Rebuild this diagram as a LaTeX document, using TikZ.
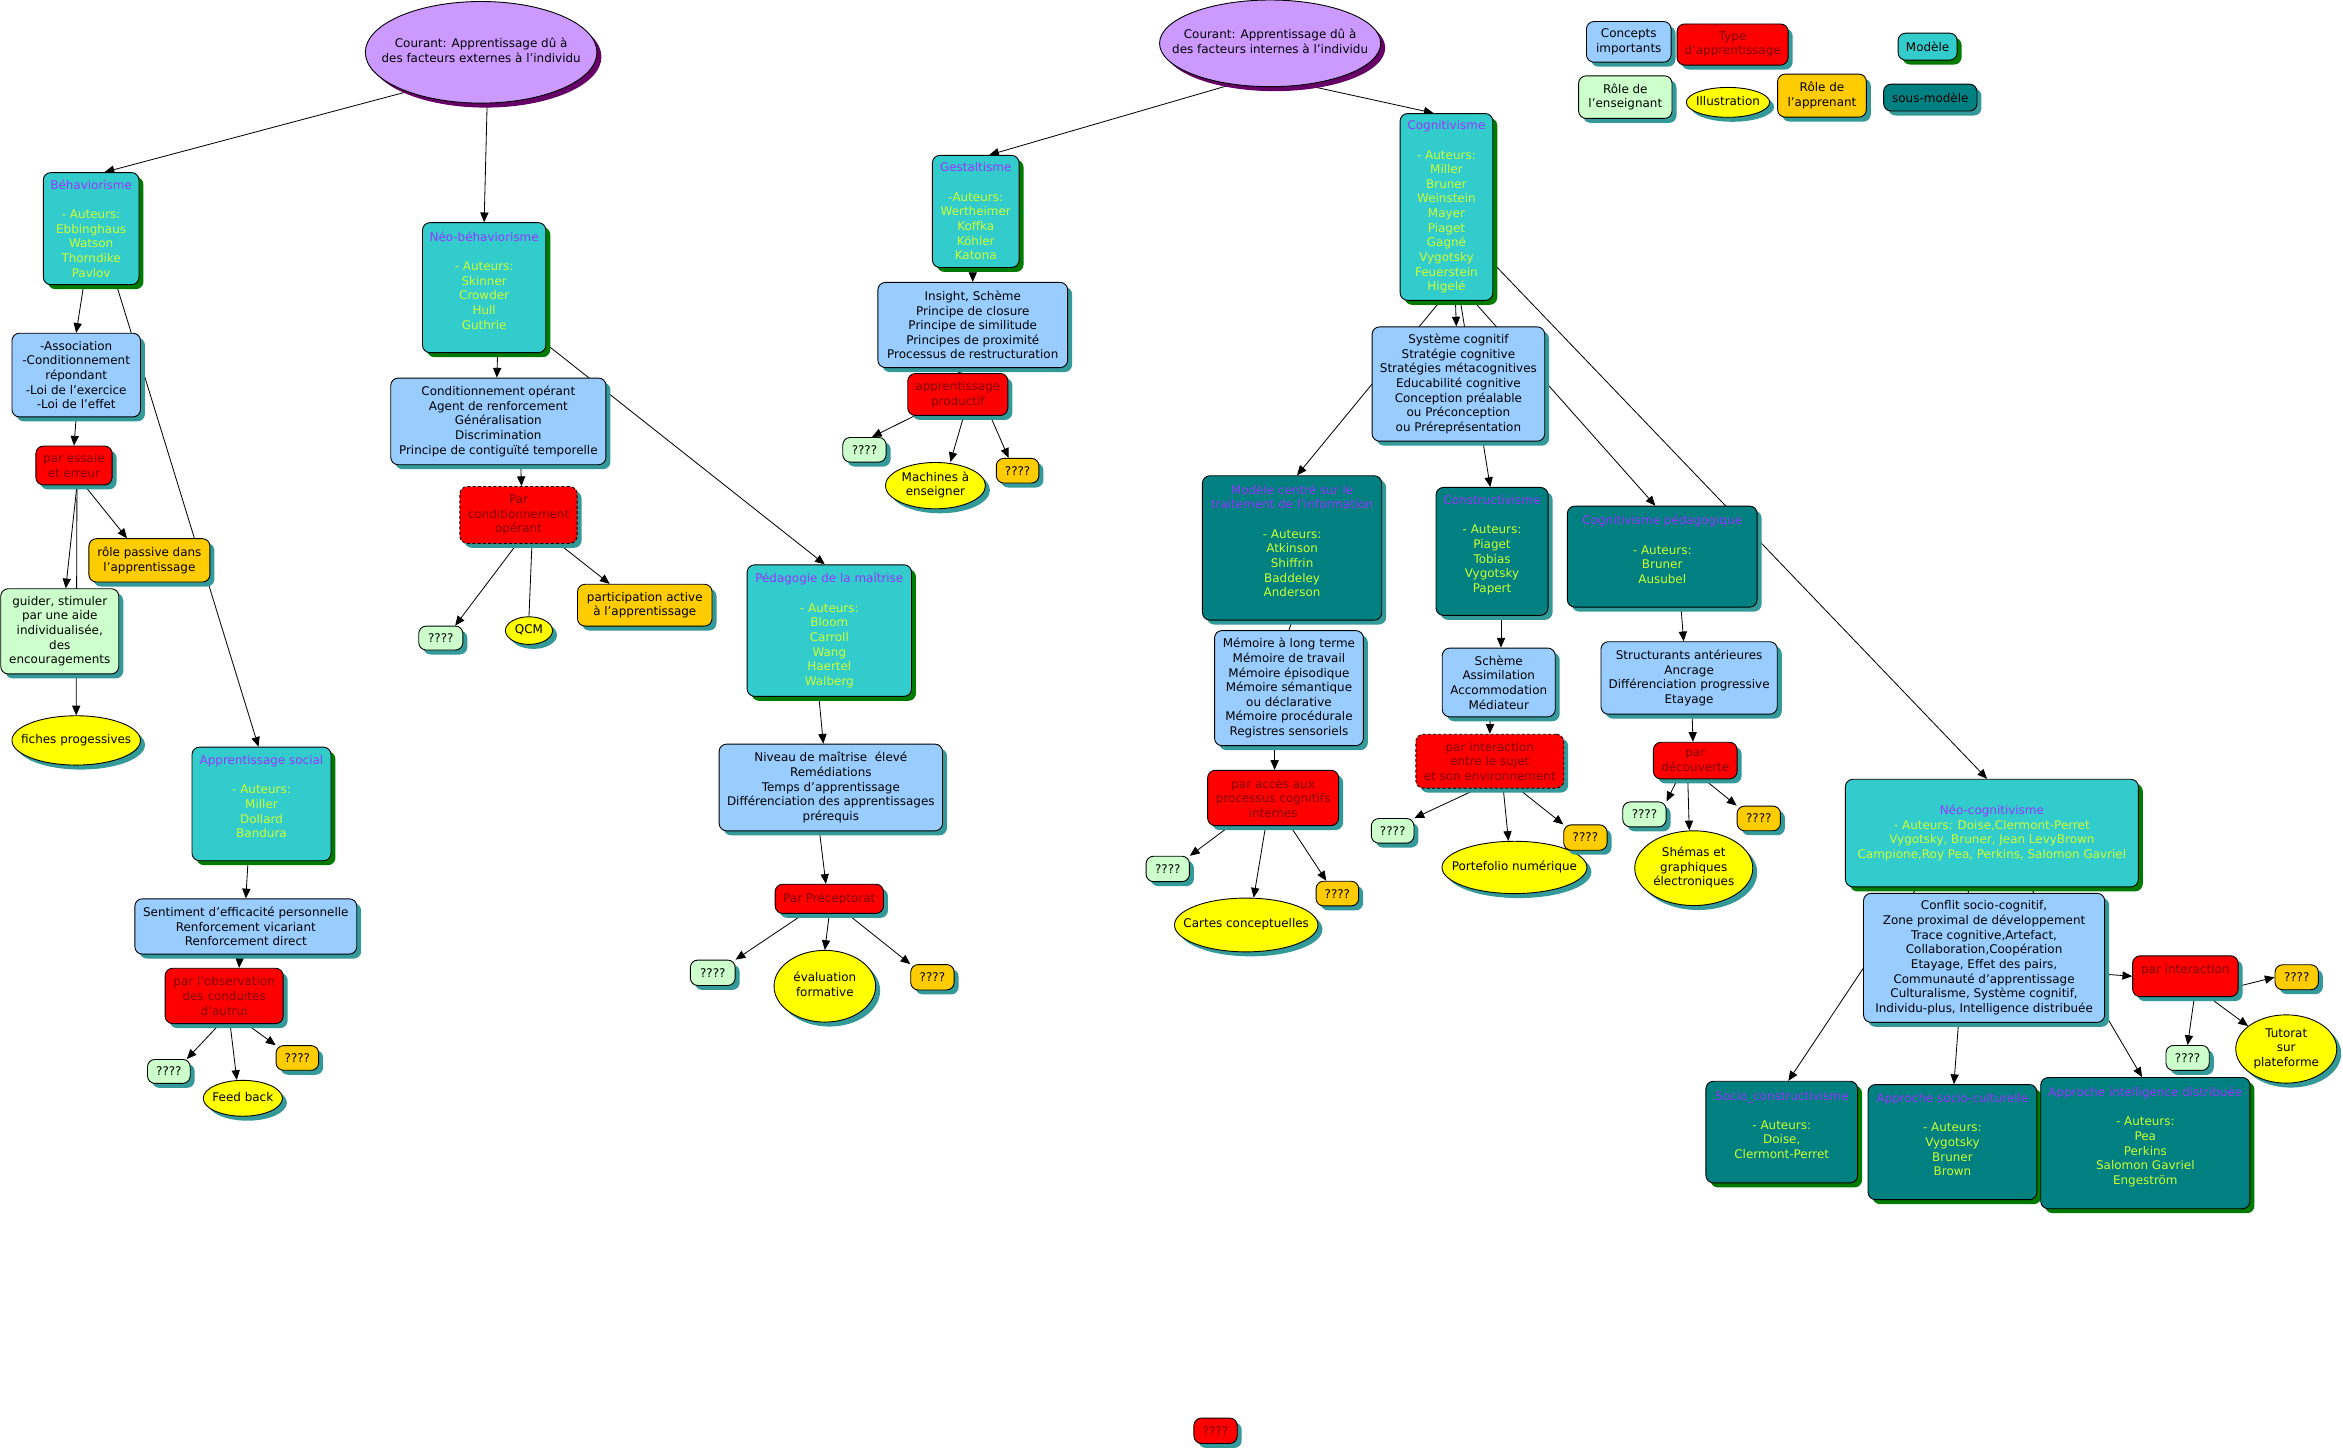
\documentclass[tikz,border=0pt]{standalone}
\usepackage{fontspec}
\setmainfont{DejaVu Sans}
\usetikzlibrary{shapes.geometric,shadows,arrows.meta}
\definecolor{cblue}{HTML}{99CCFF}
\definecolor{tred}{HTML}{FF0000}
\definecolor{dred}{HTML}{800000}
\definecolor{lgreen}{HTML}{CCFFCC}
\definecolor{orng}{HTML}{FFCC00}
\definecolor{yell}{HTML}{FFFF00}
\definecolor{modc}{HTML}{33CCCC}
\definecolor{smodc}{HTML}{008080}
\definecolor{purp}{HTML}{9933FF}
\definecolor{aut}{HTML}{CCFF33}
\definecolor{shteal}{HTML}{339999}
\definecolor{shgreen}{HTML}{007A00}
\definecolor{courc}{HTML}{CC99FF}
\definecolor{shpurp}{HTML}{660066}
\newcommand{\ttl}[1]{\textcolor{purp}{#1}}
\newcommand{\ztxt}[1]{\smash{\makebox[0pt]{\raisebox{-2pt}{\begin{tabular}{@{}c@{}}#1\end{tabular}}}}}
\pgfdeclarelayer{bg}
\pgfdeclarelayer{edges}
\pgfsetlayers{bg,edges,main}
\tikzset{
  fnt/.style={font=\fontsize{8pt}{9.8pt}\selectfont},
  shT/.style={general shadow={draw=none, fill=shteal, shadow xshift=3pt, shadow yshift=-3pt}},
  shG/.style={general shadow={draw=none, fill=shgreen, shadow xshift=3pt, shadow yshift=-3pt}},
  shP/.style={general shadow={draw=none, fill=shpurp, shadow xshift=3pt, shadow yshift=-3pt}},
  base/.style={draw=black, line width=0.6pt, rounded corners=5pt, align=center, inner sep=2pt, fnt},
  sz/.style 2 args={minimum width=#1pt, minimum height=#2pt},
  concept/.style={base, fill=cblue, shT},
  typ/.style={base, fill=tred, text=dred, shT},
  typd/.style={typ, dash pattern=on 2pt off 1.5pt},
  ens/.style={base, fill=lgreen, shT},
  appr/.style={base, fill=orng, shT},
  illus/.style={shape=ellipse, draw=black, line width=0.6pt, fill=yell, inner sep=0pt, fnt, shT},
  courant/.style={shape=ellipse, draw=black, line width=0.6pt, fill=courc, inner sep=0pt, fnt, shP},
  modele/.style={base, fill=modc, text=aut, shG},
  smod/.style={base, fill=smodc, text=aut, shT},
  smodg/.style={base, fill=smodc, text=aut, shG},
  arr/.style={draw=black, line width=0.55pt, -{Triangle[length=6.5pt,width=5.5pt]}},
  ln/.style={draw=black, line width=0.55pt},
}
\begin{document}
\begin{tikzpicture}[x=1pt,y=-1pt]
\useasboundingbox (0,0) rectangle (1568,970);
\begin{pgfonlayer}{bg}
\fill[white] (0,0) rectangle (1568,970);
\end{pgfonlayer}

% ---------- legend ----------
\node[concept, sz={56.6}{27.2}] (L1) at (1090,28) {Concepts\\importants};
\node[typ, sz={74.3}{27.5}] (L2) at (1159.5,29.8) {Type\\d'apprentissage};
\node[modele, text=black, sz={39.5}{18}] (L3) at (1290,31.2) {Modèle};
\node[ens, sz={62.5}{28.5}] (L4) at (1087.7,65) {Rôle de\\l'enseignant};
\node[illus, sz={55.8}{20}] (L5) at (1156.4,68.5) {\ztxt{Illustration}};
\node[appr, sz={59.4}{28.8}] (L6) at (1219.3,64) {Rôle de\\l'apprenant};
\node[smod, text=black, sz={62.5}{18}] (L7) at (1291.8,65.3) {sous-modèle};

% ---------- external current ----------
\node[courant, sz={155}{68}] (E1) at (322,35) {\ztxt{Courant: Apprentissage dû à\\des facteurs externes à l'individu}};
\node[modele, sz={64}{75}] (beh) at (61,153) {\ttl{Béhaviorisme}\\~\\- Auteurs:\\Ebbinghaus\\Watson\\Thorndike\\Pavlov};
\node[concept, sz={86}{56}] (assoc) at (51,251) {-Association\\-Conditionnement\\répondant\\-Loi de l'exercice\\-Loi de l'effet};
\node[typ, sz={51}{26}] (essaie) at (49.5,311.5) {par essaie\\et erreur};
\node[appr, sz={81}{29}] (rolep) at (100,375) {rôle passive dans\\ l’apprentissage};
\node[ens, sz={79}{57}] (guider) at (40,422.5) {guider, stimuler\\ par une aide\\individualisée,\\des\\encouragements};
\node[illus, sz={86}{33}] (fiches) at (51,495.5) {\ztxt{fiches progessives}};
\node[modele, sz={93}{76}] (apsoc) at (175,538) {\ttl{Apprentissage social}\\~\\- Auteurs:\\Miller\\Dollard\\Bandura\\~};
\node[concept, sz={148.5}{37}] (sentim) at (164.5,620) {Sentiment d'efficacité personnelle\\Renforcement vicariant\\Renforcement direct};
\node[typ, sz={79}{37}] (observ) at (150,666.5) {par l'observation\\des conduites\\d'autrui};
\node[ens, sz={28.6}{16}] (q1) at (113,717) {????};
\node[illus, sz={53}{24}] (feed) at (162.5,735) {\ztxt{Feed back}};
\node[appr, sz={28.5}{16.5}] (q2) at (199,708) {????};

\node[modele, sz={82.5}{87}] (neobeh) at (324,192.5) {\ttl{Néo-béhaviorisme}\\~\\- Auteurs:\\Skinner\\Crowder\\Hull\\Guthrie\\~};
\node[concept, sz={144}{58}] (condop) at (333.5,282) {Conditionnement opérant\\Agent de renforcement\\Généralisation\\Discrimination\\Principe de contiguïté temporelle};
\node[typd, sz={78.5}{38}] (parcond) at (347,344.6) {Par\\conditionnement\\opérant};
\node[ens, sz={29.5}{16}] (q3) at (295,427) {????};
\node[illus, sz={31.5}{18.5}] (qcm) at (354,422) {\ztxt{QCM}};
\node[appr, sz={90}{28}] (partic) at (431.5,405) {participation active\\à l’apprentissage};

\node[modele, sz={110}{88}] (pedago) at (555,422) {\ttl{Pédagogie de la maîtrise}\\~\\- Auteurs:\\Bloom\\Carroll\\Wang\\Haertel\\Walberg};
\node[concept, sz={149.5}{58}] (niveau) at (556,527) {Niveau de maîtrise~ élevé\\Remédiations\\Temps d’apprentissage\\Différenciation des apprentissages\\prérequis};
\node[typ, sz={72.5}{19.5}] (precep) at (555,601.5) {Par Préceptorat};
\node[ens, sz={30}{17}] (q4) at (477,651) {????};
\node[illus, sz={68}{48}] (evalf) at (552,660) {\ztxt{évaluation\\ formative}};
\node[appr, sz={29}{17}] (q5) at (624,654) {????};

% ---------- internal current ----------
\node[courant, sz={148}{58}] (E2) at (850,29) {\ztxt{Courant: Apprentissage dû à\\des facteurs internes à l'individu}};
\node[modele, sz={58}{75}] (gestalt) at (653,141.5) {\ttl{Gestaltisme}\\~\\-Auteurs:\\Wertheimer\\Koffka\\Köhler\\Katona};
\node[concept, sz={127}{57}] (insight) at (651,217.5) {Insight, Schème\\Principe de closure\\Principe de similitude\\Principes de proximité\\Processus de restructuration};
\node[typ, sz={67}{28}] (produc) at (641,264) {apprentissage\\productif};
\node[ens, sz={29}{16.5}] (q6) at (578.5,301) {????};
\node[illus, sz={67}{31}] (machines) at (626,325) {\ztxt{Machines à\\enseigner}};
\node[appr, sz={28.5}{16.5}] (q7) at (681,315) {????};

\node[modele, sz={62}{125}] (cogn) at (968,138.5) {\ttl{Cognitivisme}\\~\\- Auteurs:\\Miller\\Bruner\\Weinstein\\Mayer\\Piaget\\Gagné\\Vygotsky\\Feuerstein\\Higelé};
\node[concept, sz={115.5}{76.5}] (systeme) at (976,257) {Système cognitif\\Stratégie cognitive\\Stratégies métacognitives\\Educabilité cognitive\\Conception préalable\\ou Préconception\\ou Préreprésentation};

\node[smod, sz={120}{96.6}] (modinf) at (864.7,366.7) {\ttl{Modèle centré sur le}\\\ttl{traitement de l'information}\\~\\- Auteurs:\\Atkinson\\Shiffrin\\Baddeley\\Anderson\\~};
\node[concept, sz={99.6}{77}] (memoire) at (862.6,460.5) {Mémoire à long terme\\Mémoire de travail\\Mémoire épisodique\\Mémoire sémantique\\ou déclarative\\Mémoire procédurale\\Registres sensoriels};
\node[typ, sz={87.6}{37}] (acces) at (852,534) {par accès aux\\processus cognitifs\\internes};
\node[ens, sz={29}{17}] (q8) at (781.5,581.5) {????};
\node[illus, sz={96}{36}] (cartes) at (834,619) {\ztxt{Cartes conceptuelles}};
\node[appr, sz={28.5}{16.5}] (q9) at (895,598) {????};

\node[smod, sz={75}{85.6}] (constr) at (998.5,369) {\ttl{Constructivisme}\\~\\- Auteurs:\\Piaget\\Tobias\\Vygotsky\\Papert\\~};
\node[concept, sz={75.6}{46}] (scheme) at (1003,456.7) {Schème\\Assimilation\\Accommodation\\Médiateur};
\node[typd, sz={99}{36}] (parint1) at (997,509.4) {par interaction\\entre le sujet\\et son environnement};
\node[ens, sz={28.5}{16.5}] (q10) at (932,556) {????};
\node[illus, sz={97}{35}] (portef) at (1013.5,580.5) {\ztxt{Portefolio numérique}};
\node[appr, sz={29}{17}] (q11) at (1061,560.5) {????};

\node[smod, sz={127}{67.6}] (cogped) at (1112.4,372.5) {\ttl{Cognitivisme pédagogique}\\~\\- Auteurs:\\Bruner\\Ausubel\\~};
\node[concept, sz={118}{48.5}] (struct) at (1130.4,453.7) {Structurants antérieures\\Ancrage\\Différenciation progressive\\Etayage};
\node[typ, sz={56}{24.5}] (decouv) at (1134.5,509) {par\\découverte};
\node[ens, sz={29}{16.7}] (q12) at (1100.5,545) {????};
\node[illus, sz={79}{50}] (shemas) at (1133.5,581) {\ztxt{Shémas et\\graphiques\\électroniques}};
\node[appr, sz={29}{16.5}] (q13) at (1177,547.7) {????};

\node[modele, sz={196}{72}] (neocog) at (1333,557.5) {\ttl{Néo-cognitivisme}\\- Auteurs: Doise,Clermont-Perret\\Vygotsky, Bruner, Jean LevyBrown\\Campione,Roy Pea, Perkins, Salomon Gavriel};
\node[concept, sz={161.4}{86.3}] (conflit) at (1327.8,641) {Conflit socio-cognitif,\\Zone proximal de développement\\Trace cognitive,Artefact,\\Collaboration,Coopération\\Etayage, Effet des pairs,\\Communauté d’apprentissage\\Culturalisme, Système cognitif,\\Individu-plus, Intelligence distribuée};
\node[typ, sz={70.6}{27.3}] (parint2) at (1462.5,653.3) {par interaction\\~};
\node[appr, sz={29}{16.7}] (q14) at (1537,654) {????};
\node[ens, sz={29}{16.7}] (q15) at (1464,708) {????};
\node[illus, sz={67.6}{45.7}] (tutorat) at (1530,702) {\ztxt{Tutorat\\sur\\plateforme}};

\node[smodg, sz={101.5}{68}] (socioc) at (1192.4,757.6) {\ttl{Socio\_constructivisme}\\~\\- Auteurs:\\Doise,\\Clermont-Perret\\~};
\node[smodg, sz={113}{77}] (sociocult) at (1306.6,764.3) {\ttl{Approche socio-culturelle}\\~\\- Auteurs:\\Vygotsky\\Bruner\\Brown\\~};
\node[smodg, sz={140}{87.8}] (inteldist) at (1435.7,765) {\ttl{Approche intelligence distribuée}\\~\\- Auteurs:\\Pea\\Perkins\\Salomon Gavriel\\Engeström\\~};

\node[typ, sz={29}{17}] (qbot) at (813.5,957.5) {????};

% ---------- connectors ----------
\begin{pgfonlayer}{edges}
\draw[arr] (E1.208) -- ([xshift=9pt]beh.north);
\draw[arr] ([xshift=4pt]E1.south) -- (neobeh.north);
\draw[arr] ([xshift=-5pt]beh.south) -- (assoc.north);
\draw[arr] ([xshift=17pt]beh.south) -- ([xshift=-2pt]apsoc.north);
\draw[arr] (assoc.south) -- (essaie.north);
\draw[arr] ([xshift=2pt]essaie.south) -- ([xshift=4pt]guider.north);
\draw[arr] ([xshift=2pt]essaie.south) -- (fiches.north);
\draw[arr] ([xshift=7pt]essaie.south) -- ([xshift=-15pt]rolep.north);
\draw[arr] ([xshift=-9pt]apsoc.south) -- (sentim.north);
\draw[arr] ([xshift=-4pt]sentim.south) -- ([xshift=10pt]observ.north);
\draw[arr] ([xshift=-3pt]observ.south) -- ([xshift=12pt]q1.north);
\draw[arr] ([xshift=4pt]observ.south) -- ([xshift=-4pt]feed.north);
\draw[arr] ([xshift=15pt]observ.south) -- (q2.north west);

\draw[arr] ([xshift=9pt]neobeh.south) -- ([xshift=-1pt]condop.north);
\draw[arr] ([yshift=6pt]neobeh.south east) -- ([xshift=-3pt]pedago.north);
\draw[arr] ([xshift=15pt]condop.south) -- ([xshift=2pt]parcond.north);
\draw[arr] ([xshift=-1pt]parcond.south) -- ([xshift=9.6pt]q3.north);
\draw[ln] ([xshift=9pt]parcond.south) -- (qcm.north);
\draw[arr] ([xshift=27pt]parcond.south) -- ([xshift=-23.5pt]partic.north);

\draw[arr] ([xshift=-7pt]pedago.south) -- ([xshift=-5pt]niveau.north);
\draw[arr] ([xshift=-7.6pt]niveau.south) -- ([xshift=-2.3pt]precep.north);
\draw[arr] ([xshift=-17pt]precep.south) -- (q4.north east);
\draw[arr] (precep.south) -- (evalf.north);
\draw[arr] ([xshift=12pt]precep.south) -- (q5.north west);

\draw[arr] (E2.227) -- ([xshift=9pt]gestalt.north);
\draw[arr] (E2.310.5) -- ([xshift=-8.6pt]cogn.north);
\draw[arr] ([xshift=-2pt]gestalt.south) -- (insight.north);
\draw[ln] (insight.south) -- (produc.north);
\draw[arr] ([xshift=-29pt]produc.south) -- ([xshift=5pt]q6.north);
\draw[arr] ([xshift=4pt]produc.south) -- ([xshift=10pt]machines.north);
\draw[arr] ([xshift=21.7pt]produc.south) -- ([xshift=-6pt]q7.north);

\draw[arr] ([xshift=6pt]cogn.south) -- ([xshift=-1.4pt]systeme.north);
\draw[arr] ([xshift=-4pt]cogn.south) -- ([xshift=3.3pt]modinf.north);
\draw[arr] ([xshift=9.3pt]cogn.south) -- ([xshift=-1.2pt]constr.north);
\draw[arr] ([xshift=18pt]cogn.south) -- ([xshift=-4.6pt]cogped.north);
\draw[arr] ([yshift=-37.7pt]cogn.east) -- ([xshift=-3.2pt]neocog.north);

\draw[ln] (modinf.south) -- (memoire.north);
\draw[arr] ([xshift=-9.6pt]memoire.south) -- ([xshift=1pt]acces.north);
\draw[arr] ([xshift=-29pt]acces.south) -- (q8.north east);
\draw[arr] ([xshift=-5pt]acces.south) -- ([xshift=5pt]cartes.north);
\draw[arr] ([xshift=11.5pt]acces.south) -- ([xshift=-7.4pt]q9.north);

\draw[arr] ([xshift=6pt]constr.south) -- ([xshift=1.5pt]scheme.north);
\draw[arr] ([xshift=-5.7pt]scheme.south) -- (parint1.north);
\draw[arr] ([xshift=-8pt]parint1.south) -- (q10.north east);
\draw[arr] ([xshift=9pt]parint1.south) -- ([xshift=-4pt]portef.north);
\draw[arr] ([xshift=19pt]parint1.south) -- (q11.north west);

\draw[arr] ([xshift=12.6pt]cogped.south) -- ([xshift=-3.7pt]struct.north);
\draw[arr] ([xshift=2pt]struct.south) -- ([xshift=-1.5pt]decouv.north);
\draw[arr] ([xshift=-12pt]decouv.south) -- (q12.north east);
\draw[arr] ([xshift=-5pt]decouv.south) -- ([xshift=-3pt]shemas.north);
\draw[arr] ([xshift=6pt]decouv.south) -- (q13.north west);

\draw[arr] ([xshift=-50pt]neocog.south) -- ([xshift=4.4pt]socioc.north);
\draw[arr] ([xshift=-15.5pt]neocog.south) -- ([xshift=1pt]sociocult.north);
\draw[arr] ([xshift=25.8pt]neocog.south) -- ([xshift=-2.2pt]inteldist.north);
\draw[arr] ([yshift=-11pt]conflit.east) -- (parint2.west);
\draw[arr] ([yshift=-6.7pt]parint2.east) -- (q14.west);
\draw[arr] ([xshift=6pt]parint2.south) -- (q15.north);
\draw[arr] ([xshift=15.6pt]parint2.south) -- (tutorat.149);
\end{pgfonlayer}
\end{tikzpicture}
\end{document}
